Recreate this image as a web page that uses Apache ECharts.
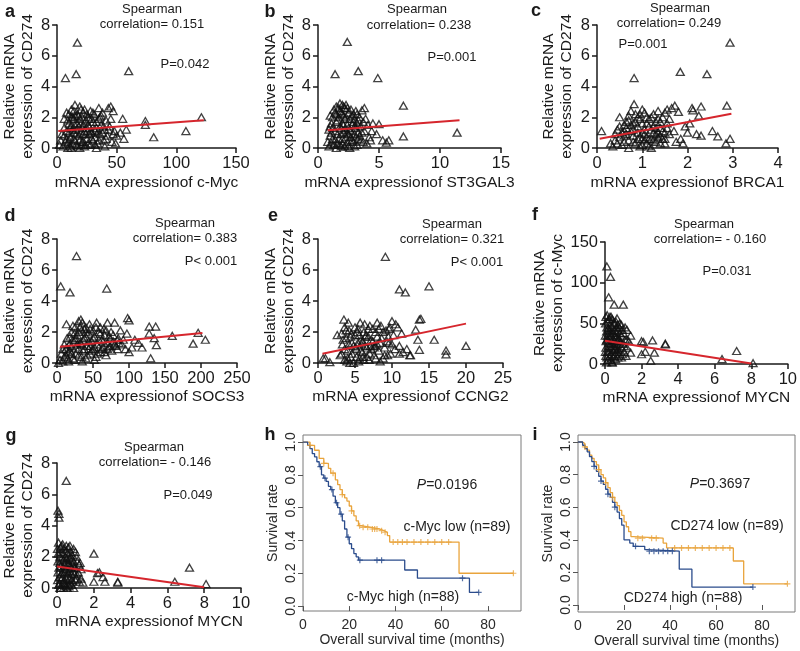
<!DOCTYPE html>
<html>
<head>
<meta charset="utf-8">
<script src="https://cdn.jsdelivr.net/npm/echarts@6/dist/echarts.min.js"></script>
<style>
  html, body { margin: 0; background: #fff; }
  #chart { width: 800px; height: 651px; }
</style>
</head>
<body>
<div id="chart"></div>
<script>
// ---- scatter data ----
const aPoints = [[17,6.85],[7,4.55],[16,4.8],[60,5.0],[121,2.0],[108,1.1],[81,0.7],[74,1.75],[74,1.5],[55,1.9],[58,1.2],[53,1.0],[50,0.8],[56,0.6],[45,2.7],[43,2.6],[47,2.4],[35,2.6],[28,2.4],[15,2.8],[19,2.7],[12,2.5],[10,2.2],[9,1.8],[6,1.3],[4,0.9],[3,0.5],[2,0.2],[5,0.1],[8,0.6],[10,1.0],[12,1.5],[13,0.3],[14,1.9],[16,1.2],[18,0.8],[18,2.1],[20,1.6],[21,0.4],[22,2.3],[23,1.1],[24,1.8],[25,0.6],[26,2.0],[27,1.4],[28,0.2],[29,1.0],[30,1.7],[31,2.2],[32,0.7],[33,1.3],[34,0.3],[35,1.9],[36,0.9],[37,1.5],[38,2.3],[39,0.5],[40,1.2],[41,1.8],[42,0.8],[44,1.4],[46,0.4],[48,1.1],[49,0.3],[11,0.1],[15,0.5],[19,0.0],[14,1.0],[17,1.6],[20,2.5],[22,0.9],[24,0.2],[26,1.5],[30,0.5],[32,1.1],[7,0.4],[9,0.0],[13,2.0],[16,0.2],[21,1.3],[23,0.1],[25,2.2],[27,0.9],[29,1.9],[33,0.0],[36,2.0],[38,1.0],[40,0.1],[11,1.3],[6,0.8],
  [6,1.9],[8,1.1],[8,2.3],[9,0.3],[10,1.6],[11,0.7],[12,2.0],[12,0.0],[13,1.2],[14,0.6],[14,2.4],[15,1.5],[16,0.9],[17,2.2],[17,0.1],[18,1.4],[19,0.5],[19,1.9],[20,1.0],[20,0.2],[21,2.0],[22,1.5],[22,0.4],[23,2.5],[24,0.9],[25,1.3],[26,0.3],[27,1.9],[28,1.1],[29,0.6],[30,2.3],[31,1.2],[32,0.2],[33,1.7],[34,1.0],[35,0.5],[37,2.1],[39,1.4],[41,0.6],[43,1.2],[45,1.9],[47,0.9],[10,0.5],[15,2.1]]
const aFit = [[1,1.1],[123,1.8]]

const bPoints = [[2.4,6.9],[1.4,4.8],[3.3,5.0],[4.9,4.55],[7.0,2.75],[7.0,0.75],[11.4,1.0],[5.0,1.55],[4.5,1.6],[3.8,2.6],[3.6,2.45],[5.3,0.5],[5.6,0.35],[5.8,0.5],[4.2,0.7],[4.8,0.9],[4.4,1.1],[1.2,2.0],[1.5,2.7],[1.8,2.9],[2.0,2.8],[2.2,2.6],[2.5,2.3],[2.8,2.1],[3.0,1.9],[3.2,2.2],[0.8,0.4],[0.9,1.2],[1.0,0.8],[1.1,1.6],[1.3,0.2],[1.4,1.1],[1.5,0.0],[1.6,1.8],[1.7,0.6],[1.8,1.4],[1.9,2.3],[2.0,0.3],[2.1,1.0],[2.2,1.9],[2.3,0.7],[2.4,1.5],[2.5,0.1],[2.6,1.2],[2.7,2.5],[2.8,0.5],[2.9,1.7],[3.0,0.9],[3.1,1.3],[3.2,0.2],[3.3,1.8],[3.4,0.8],[3.5,1.4],[3.7,0.4],[3.8,1.1],[3.9,1.9],[4.0,0.3],[4.1,1.5],[1.2,0.6],[1.6,0.3],[2.0,1.6],[2.3,2.8],[2.6,0.0],[2.9,0.4],[3.3,0.6],[1.0,1.4],[1.4,2.3],[1.9,0.9],[2.1,2.1],[2.5,0.9],[3.6,1.0],[4.3,0.5],[0.9,0.1],[1.7,2.6],[2.7,1.1],[3.1,2.4],
  [1.0,2.1],[1.1,0.3],[1.2,1.3],[1.3,2.5],[1.4,0.5],[1.5,1.7],[1.6,0.9],[1.7,2.0],[1.8,0.2],[1.8,2.4],[1.9,1.3],[2.0,0.6],[2.0,2.2],[2.1,1.5],[2.2,0.1],[2.2,1.2],[2.3,2.0],[2.4,0.4],[2.4,2.6],[2.5,1.3],[2.6,1.9],[2.7,0.7],[2.8,1.5],[2.9,2.2],[3.0,0.1],[3.0,1.4],[3.1,0.7],[3.2,1.6],[3.4,2.0],[3.5,0.5],[3.7,1.7],[1.1,1.0],[1.5,2.2],[1.9,0.1],[2.1,2.7],[2.6,0.5],[3.3,1.0],[2.4,1.0]]
const bFit = [[0.8,1.15],[11.6,1.8]]

const cPoints = [[2.94,6.85],[0.82,4.55],[1.84,4.95],[2.43,4.8],[0.1,1.1],[0.5,2.0],[0.82,2.85],[2.87,2.75],[2.94,0.6],[2.85,0.3],[2.67,0.75],[2.55,1.1],[2.3,2.7],[2.25,2.1],[2.1,2.6],[2.12,2.45],[1.9,0.3],[1.8,2.35],[1.72,2.75],[1.65,2.6],[1.55,2.5],[1.85,0.6],[1.95,1.4],[2.0,1.0],[2.05,1.6],[2.2,0.9],[2.3,0.8],[1.7,1.1],[1.75,0.4],[1.6,1.9],[1.5,0.3],[0.3,0.3],[0.35,0.1],[0.4,0.5],[0.45,1.2],[0.5,0.7],[0.55,0.2],[0.6,1.5],[0.65,0.9],[0.7,0.0],[0.7,1.8],[0.75,1.1],[0.8,0.4],[0.85,2.2],[0.9,1.4],[0.9,0.6],[0.95,1.9],[1.0,0.2],[1.0,1.0],[1.05,2.3],[1.1,0.7],[1.1,1.6],[1.15,0.1],[1.2,1.2],[1.2,2.0],[1.25,0.5],[1.3,1.7],[1.3,0.9],[1.35,2.4],[1.4,0.3],[1.4,1.3],[1.45,2.0],[1.5,1.0],[1.55,1.6],[0.6,0.4],[0.8,0.8],[0.95,0.1],[1.05,0.5],[1.15,1.9],[1.25,1.4],[0.65,1.3],[0.75,2.4],[1.35,0.7],[0.85,1.7],[0.55,1.0],[1.45,0.6],[1.0,2.5],[1.2,0.0],
  [0.4,0.9],[0.45,0.3],[0.5,1.4],[0.6,0.8],[0.65,1.7],[0.7,0.5],[0.75,1.5],[0.8,1.2],[0.85,0.3],[0.9,1.0],[0.9,2.0],[0.95,0.7],[1.0,1.6],[1.0,0.6],[1.05,1.2],[1.1,0.3],[1.1,2.0],[1.15,1.4],[1.2,0.6],[1.25,1.0],[1.25,2.2],[1.3,0.4],[1.3,1.3],[1.35,1.9],[1.4,0.8],[1.4,1.7],[1.45,1.1],[1.5,2.3],[1.5,0.6],[1.55,1.3],[0.7,2.1],[0.8,1.6],[0.95,2.2],[1.05,0.9],[1.15,0.6],[1.35,1.0],[0.6,1.1],[1.6,0.9]]
const cFit = [[0.06,0.6],[2.97,2.23]]

const dPoints = [[27,6.9],[5,4.95],[18,4.55],[69,4.8],[13,2.5],[98,2.9],[100,2.75],[128,2.35],[137,2.35],[160,1.75],[196,1.95],[206,1.5],[189,1.25],[138,1.15],[130,0.3],[128,1.9],[135,1.6],[100,0.7],[104,1.0],[108,1.5],[113,1.3],[118,1.0],[97,1.9],[80,2.6],[75,2.0],[85,1.6],[90,1.2],[95,0.9],[88,2.1],[70,2.6],[65,2.2],[60,2.3],[55,2.6],[50,2.1],[45,2.5],[40,2.3],[33,2.8],[30,2.7],[35,2.6],[25,2.3],[20,2.0],[2,0.0],[4,0.2],[6,0.6],[8,0.1],[10,0.4],[12,0.9],[15,0.3],[17,1.2],[20,0.6],[22,1.5],[24,0.2],[26,1.0],[28,1.8],[30,0.5],[32,1.3],[34,2.1],[36,0.8],[38,1.6],[40,0.3],[42,1.1],[44,1.9],[46,0.6],[48,1.4],[50,0.9],[52,1.7],[54,0.4],[56,1.2],[58,2.0],[60,0.7],[62,1.5],[64,1.0],[66,1.8],[68,0.5],[70,1.3],[72,1.0],[74,1.6],[76,0.8],[78,1.4],[82,1.1],[84,0.9],[86,1.3],[92,1.5],[35,0.1],[18,0.8],[14,1.6],[44,0.9],[52,0.2],[30,2.0],[25,1.5],[58,1.0],[40,1.7],
  [10,1.2],[12,0.5],[14,1.0],[16,0.1],[18,1.7],[20,1.1],[22,0.3],[24,1.9],[26,0.6],[28,1.2],[30,0.9],[32,2.3],[34,0.4],[36,1.5],[38,0.9],[40,2.0],[42,0.5],[44,1.4],[46,2.2],[48,0.8],[50,1.6],[52,1.0],[54,2.3],[56,0.6],[58,1.5],[60,1.9],[62,0.9],[64,1.4],[66,0.7],[68,2.1],[70,0.9],[72,1.7],[74,1.1],[78,1.8],[80,1.2],[84,1.5],[16,0.7],[26,1.6],[34,1.2],[46,1.1],[8,0.9],[22,2.4],[38,2.2]]
const dFit = [[4,1.05],[202,1.93]]

const ePoints = [[9.1,6.85],[11,4.75],[11.8,4.55],[15,4.95],[20,1.1],[17.3,0.8],[17.3,0.55],[15.7,1.5],[13.7,2.8],[13.9,2.85],[13.2,2.15],[13.5,1.5],[13.7,0.85],[12,0.9],[12.4,0.5],[11,1.1],[10.5,2.5],[10,2.7],[9.7,2.3],[9.4,0.5],[8,2.6],[8.5,2.4],[3.5,2.8],[3.2,1.9],[2.6,1.8],[0.7,0.3],[1,0.3],[1.6,0.05],[11.5,0.7],[12.5,0.5],[10.8,2.3],[11.3,1.9],[11,0.6],[3.0,0.5],[3.3,1.2],[3.6,0.2],[3.8,1.6],[4.0,0.8],[4.2,2.1],[4.4,0.4],[4.6,1.3],[4.8,0.0],[5.0,1.8],[5.2,0.9],[5.4,2.2],[5.6,0.3],[5.8,1.5],[6.0,0.7],[6.2,2.0],[6.4,1.1],[6.6,0.4],[6.8,1.7],[7.0,2.4],[7.2,0.9],[7.4,1.4],[7.6,0.5],[7.8,2.0],[8.0,1.2],[8.2,0.8],[8.6,1.6],[8.8,0.3],[9.0,1.0],[9.2,2.1],[9.6,1.3],[9.8,0.6],[10.2,1.8],[10.4,0.9],[4.1,2.6],[5.5,0.1],[6.3,2.5],[3.9,0.1],[5.1,1.0],[6.9,0.2],[7.7,1.1],[8.4,0.1],[9.5,1.7],[4.5,1.9],[5.9,1.2],[6.5,1.8],
  [3.2,0.6],[3.4,1.5],[3.6,0.9],[3.8,2.1],[4.0,0.3],[4.2,1.2],[4.4,1.7],[4.6,0.6],[4.8,1.1],[5.0,2.3],[5.2,0.4],[5.4,1.3],[5.6,1.8],[5.8,0.8],[6.0,1.4],[6.2,0.2],[6.4,1.7],[6.6,1.0],[6.8,2.2],[7.0,0.6],[7.2,1.5],[7.4,2.2],[7.6,1.0],[7.8,0.3],[8.0,1.7],[8.2,2.2],[8.4,1.3],[8.8,2.0],[9.0,0.5],[9.3,1.4],[9.6,2.2],[10.0,1.2],[4.3,0.0],[5.3,2.0],[6.1,0.4],[7.1,1.1],[3.6,2.3],[5.7,2.6]]
const eFit = [[0.6,0.6],[20,2.54]]

const fPoints = [[0.1,120],[0.3,107],[0.2,82],[0.5,73],[1.0,73],[0.8,50],[0.9,48],[1.4,35],[2.0,28],[2.1,27],[2.6,29],[3.3,25],[3.3,24],[7.2,16],[6.4,6],[8.1,1],[2.5,4],[2.0,12],[2.2,15],[2.7,14],[1.4,14],[1.2,20],[1.1,30],[1.0,38],[0.05,58],[0.1,45],[0.15,30],[0.2,15],[0.25,55],[0.3,5],[0.35,40],[0.4,25],[0.45,50],[0.5,10],[0.55,35],[0.6,20],[0.65,45],[0.7,8],[0.75,30],[0.8,15],[0.85,25],[0.9,35],[0.95,12],[0.05,20],[0.1,8],[0.15,52],[0.2,38],[0.25,22],[0.3,48],[0.35,12],[0.4,55],[0.45,30],[0.5,42],[0.55,18],[0.6,52],[0.65,28],[0.7,40],[0.02,35],[0.08,2],[0.12,60],[0.28,32],[0.38,2],[0.48,22],[0.58,6],[0.68,15],[0.78,45],[1.05,22],[1.15,10],[1.3,28],[0.05,10],[0.22,26],[0.42,17],[0.62,33],[0.88,20],[1.2,42],[0.18,44],[0.33,58],
  [0.03,50],[0.06,28],[0.09,40],[0.12,15],[0.14,35],[0.17,5],[0.2,55],[0.23,42],[0.26,10],[0.29,25],[0.32,36],[0.36,20],[0.39,46],[0.43,8],[0.46,38],[0.5,28],[0.53,50],[0.57,12],[0.6,40],[0.63,24],[0.66,56],[0.7,18],[0.73,32],[0.76,10],[0.8,38],[0.84,28],[0.9,8],[0.95,42],[1.0,25],[1.05,15],[1.1,45],[1.2,30],[0.02,15],[0.1,30],[0.27,58],[0.4,2],[0.52,18],[0.7,48]]
const fFit = [[0,28.5],[8,0.5]]

const gPoints = [[0.5,6.85],[0.05,4.95],[0.1,4.75],[0.1,4.5],[2.0,2.2],[7.2,1.3],[6.4,0.4],[8.1,0.25],[3.3,0.4],[3.3,0.35],[2.6,0.4],[2.5,0.7],[2.2,0.95],[2.3,1.0],[2.0,0.4],[1.4,0.35],[0.9,0.0],[1.0,2.3],[0.7,2.7],[0.02,2.5],[0.05,1.0],[0.1,0.2],[0.15,2.0],[0.2,1.4],[0.25,0.6],[0.3,2.8],[0.35,1.8],[0.4,0.3],[0.45,1.2],[0.5,2.4],[0.55,0.8],[0.6,1.6],[0.65,0.1],[0.7,1.1],[0.75,2.0],[0.8,0.5],[0.85,1.5],[0.9,2.5],[0.95,0.9],[1.0,1.3],[1.05,0.6],[1.1,1.7],[1.2,0.4],[1.3,1.2],[0.05,1.7],[0.12,0.7],[0.18,2.6],[0.22,0.0],[0.28,1.0],[0.32,2.2],[0.38,0.5],[0.42,1.5],[0.48,0.1],[0.52,1.9],[0.58,1.0],[0.62,2.6],[0.68,0.6],[0.72,1.4],[0.78,0.2],[0.82,1.8],[0.88,1.0],[1.15,1.0],[1.25,1.6],[0.08,2.9],[0.3,0.3],[0.45,2.0],
  [0.03,0.5],[0.06,2.2],[0.1,1.3],[0.13,0.3],[0.16,1.6],[0.2,2.3],[0.23,0.9],[0.26,1.9],[0.3,0.7],[0.33,1.3],[0.36,2.5],[0.4,1.0],[0.43,0.2],[0.46,1.7],[0.5,0.6],[0.53,1.2],[0.56,2.2],[0.6,0.3],[0.63,1.5],[0.66,1.9],[0.7,0.3],[0.73,2.3],[0.76,0.9],[0.8,1.3],[0.83,2.1],[0.86,0.4],[0.9,1.7],[0.95,1.3],[1.0,0.5],[1.05,2.0],[1.1,0.8],[1.2,1.5],[1.3,0.6],[0.15,0.0],[0.35,0.0],[0.55,0.0],[0.25,2.7],[0.5,2.7]]
const gFit = [[0,1.38],[8,0.05]]

// ---- survival curves (Kaplan-Meier steps) ----
const hLow = [[0,1],[3,0.98],[5,0.95],[7,0.90],[9,0.87],[11,0.84],[12,0.81],[14,0.77],[15,0.74],[16,0.71],[17,0.68],[18,0.66],[19,0.64],[20,0.61],[21,0.58],[22,0.55],[23,0.52],[24,0.49],[25,0.48],[29.5,0.47],[33,0.46],[35,0.45],[36.5,0.43],[37.5,0.39],[67.5,0.20],[91,0.20]]
const hHigh = [[0,1],[2,0.98],[3,0.96],[4,0.93],[5,0.91],[6,0.88],[7,0.85],[8,0.80],[9,0.78],[10,0.76],[11,0.73],[12,0.71],[13,0.67],[14,0.63],[15,0.60],[16,0.56],[17,0.52],[18,0.47],[19,0.42],[20,0.38],[21,0.35],[22,0.32],[23,0.30],[24,0.28],[44,0.22],[49.5,0.17],[72,0.083],[76,0.083]]
const hLowCensor = [[3,0.98],[9,0.87],[13,0.81],[17,0.68],[21,0.58],[24.5,0.49],[26,0.48],[28,0.48],[30,0.47],[31,0.47],[32,0.47],[34,0.46],[35.5,0.45],[39,0.39],[41,0.39],[43,0.39],[45,0.39],[48,0.39],[51,0.39],[54,0.39],[57,0.39],[60,0.39],[63,0.39],[91,0.20]]
const hHighCensor = [[7.5,0.85],[9.5,0.78],[12.5,0.71],[14.5,0.63],[16.5,0.56],[19.5,0.42],[24.6,0.28],[32,0.28],[34,0.28],[69,0.17],[76,0.083]]

const iLow = [[0,1],[2,0.99],[3,0.97],[4,0.95],[5,0.92],[6,0.90],[7,0.88],[8,0.86],[9,0.83],[10,0.80],[11,0.78],[12,0.75],[13,0.72],[14,0.69],[15,0.66],[16,0.63],[17,0.61],[18,0.58],[19,0.55],[20,0.51],[21,0.48],[22,0.45],[23,0.42],[24,0.41],[37,0.38],[38.5,0.35],[67.5,0.27],[72,0.13],[91,0.13]]
const iHigh = [[0,1],[2,0.98],[3,0.96],[4,0.94],[5,0.91],[6,0.88],[7,0.85],[8,0.82],[9,0.79],[10,0.76],[11,0.74],[12,0.71],[13,0.68],[14,0.66],[15,0.63],[16,0.60],[17,0.57],[18,0.53],[19,0.49],[20,0.40],[22.5,0.38],[24,0.36],[29,0.34],[30,0.33],[44,0.22],[49.5,0.11],[76,0.11]]
const iLowCensor = [[3,0.97],[9,0.83],[12,0.75],[15,0.66],[26,0.41],[28,0.41],[32,0.41],[34,0.41],[42,0.35],[45,0.35],[48,0.35],[51,0.35],[54,0.35],[57,0.35],[60,0.35],[63,0.35],[66,0.35],[91,0.13]]
const iHighCensor = [[7,0.85],[10,0.76],[13,0.68],[16,0.60],[25,0.36],[31,0.33],[33,0.33],[35,0.33],[37,0.33],[39,0.33],[41,0.33],[76,0.11]]

const kmTicksX = [0, 20, 40, 60, 80]
const kmTicksY = [0, 0.2, 0.4, 0.6, 0.8, 1.0]

const FONT = '"Liberation Sans", Arial, sans-serif'
const INK = '#1a1a1a'
const RED = '#d6262d'
const ORANGE = '#e9a43c'
const BLUE = '#2b4c8c'

const grids = [], xAxes = [], yAxes = [], series = []

// scatter panel with a fitted line, GraphPad style axes
function addScatter(box, xMax, xStep, xName, xGap, yMax, yStep, yName, yGap, pts, fit) {
  const gi = grids.length
  grids.push({ left: box[0], top: box[1], width: box[2], height: box[3] })
  const common = {
    gridIndex: gi, type: 'value', min: 0, splitLine: { show: false },
    nameLocation: 'middle',
    nameTextStyle: { fontFamily: FONT, fontSize: 15.5, color: INK, lineHeight: 18 },
    axisLine: { onZero: false, lineStyle: { color: INK, width: 1.5 } },
    axisTick: { length: 5, lineStyle: { color: INK, width: 1.5 } },
    axisLabel: { fontFamily: FONT, fontSize: 16.5, color: INK, margin: 7 }
  }
  xAxes.push(Object.assign({}, common, { max: xMax, interval: xStep, name: xName, nameGap: xGap }))
  yAxes.push(Object.assign({}, common, { max: yMax, interval: yStep, name: yName, nameGap: yGap, nameRotate: 90 }))
  series.push({
    type: 'scatter', xAxisIndex: gi, yAxisIndex: gi, data: pts,
    symbol: 'triangle', symbolSize: [8, 7],
    itemStyle: { color: 'rgba(0,0,0,0)', borderColor: '#111', borderWidth: 1.3 },
    silent: true, z: 2
  })
  series.push({
    type: 'line', xAxisIndex: gi, yAxisIndex: gi, data: fit, symbol: 'none',
    lineStyle: { color: RED, width: 2 }, silent: true, z: 5
  })
}

// Kaplan-Meier panel drawn inside an R style box
function addSurvival(box, yMin, yMax, xMax, low, high, lowCens, highCens) {
  const gi = grids.length
  grids.push({ left: box[0], top: box[1], width: box[2], height: box[3], show: true,
    borderColor: '#7a7a7a', borderWidth: 1, backgroundColor: 'transparent' })
  const lab = { fontFamily: FONT, fontSize: 14, color: '#2a2a2a' }
  xAxes.push({
    gridIndex: gi, type: 'value', min: 0, max: xMax, splitLine: { show: false },
    axisLine: { show: false },
    axisTick: { customValues: kmTicksX, length: 5, lineStyle: { color: '#555' } },
    axisLabel: Object.assign({ customValues: kmTicksX, margin: 7 }, lab),
    name: 'Overall survival time (months)', nameLocation: 'middle', nameGap: 21,
    nameTextStyle: lab
  })
  yAxes.push({
    gridIndex: gi, type: 'value', min: yMin, max: yMax, splitLine: { show: false },
    axisLine: { show: false },
    axisTick: { customValues: kmTicksY, length: 5, lineStyle: { color: '#555' } },
    axisLabel: Object.assign({ customValues: kmTicksY, rotate: 90, margin: 5,
      formatter: v => v.toFixed(1) }, lab),
    name: 'Survival rate', nameLocation: 'middle', nameGap: 23, nameTextStyle: lab
  })
  const plus = 'path://M4,0H6V4H10V6H6V10H4V6H0V4H4Z'
  ;[[low, lowCens, ORANGE], [high, highCens, BLUE]].forEach(([curve, cens, col]) => {
    series.push({ type: 'line', step: 'end', xAxisIndex: gi, yAxisIndex: gi, data: curve,
      symbol: 'none', lineStyle: { color: col, width: 1.3 }, silent: true, z: 3 })
    series.push({ type: 'scatter', xAxisIndex: gi, yAxisIndex: gi, data: cens,
      symbol: plus, symbolSize: 6, itemStyle: { color: col }, silent: true, z: 4 })
  })
}

addScatter([53, 25, 183, 123], 150, 50, 'mRNA expressionof c-Myc', 26, 8, 2, 'Relative mRNA\nexpression of CD274', 17, aPoints, aFit)
addScatter([318, 25, 183, 123], 15, 5, 'mRNA expressionof ST3GAL3', 26, 8, 2, 'Relative mRNA\nexpression of CD274', 15, bPoints, bFit)
addScatter([597, 25, 181, 123], 4, 1, 'mRNA expressionof BRCA1', 26, 8, 2, 'Relative mRNA\nexpression of CD274', 21, cPoints, cFit)
addScatter([52, 239, 185, 124], 250, 50, 'mRNA expressionof SOCS3', 20, 8, 2, 'Relative mRNA\nexpression of CD274', 16, dPoints, dFit)
addScatter([318, 239, 185, 124], 25, 5, 'mRNA expressionof CCNG2', 20, 8, 2, 'Relative mRNA\nexpression of CD274', 15, ePoints, eFit)
addScatter([605, 242, 188, 122], 10, 2, 'mRNA expressionof MYCN', 19, 150, 50, 'Relative mRNA\nexpression of c-Myc', 32, fPoints, fFit)
addScatter([53, 463, 188, 125], 10, 2, 'mRNA expressionof MYCN', 21, 8, 2, 'Relative mRNA\nexpression of CD274', 16, gPoints, gFit)
addSurvival([303, 435, 218, 176], -0.03, 1.043, 94.3, hLow, hHigh, hLowCensor, hHighCensor)
addSurvival([578, 435, 217, 177], -0.043, 1.043, 94.3, iLow, iHigh, iLowCensor, iHighCensor)

// annotation texts
function txt(x, y, text, size, extra) {
  return { type: 'text', x: x, y: y, silent: true, z: 10,
    style: Object.assign({ text: text, fontFamily: FONT, fontSize: size, fill: INK,
      align: 'center', verticalAlign: 'middle' }, extra || {}) }
}
const italicP = { rich: { i: { fontStyle: 'italic', fontFamily: FONT, fontSize: 14, fill: '#222' } }, fill: '#222' }
const graphics = [
  txt(10, 12, 'a', 18, { fontWeight: 'bold' }), txt(270, 12, 'b', 18, { fontWeight: 'bold' }),
  txt(536, 11, 'c', 18, { fontWeight: 'bold' }), txt(10, 216, 'd', 18, { fontWeight: 'bold' }),
  txt(273, 216, 'e', 18, { fontWeight: 'bold' }), txt(535, 215, 'f', 18, { fontWeight: 'bold' }),
  txt(11, 436, 'g', 18, { fontWeight: 'bold' }), txt(270, 435, 'h', 18, { fontWeight: 'bold' }),
  txt(535, 435, 'i', 18, { fontWeight: 'bold' }),
  txt(152, 9, 'Spearman', 13), txt(152, 24, 'correlation= 0.151', 13), txt(185, 64, 'P=0.042', 13),
  txt(417, 9, 'Spearman', 13), txt(419, 25, 'correlation= 0.238', 13), txt(452, 57, 'P=0.001', 13),
  txt(680, 8, 'Spearman', 13), txt(669, 23, 'correlation= 0.249', 13), txt(643, 44, 'P=0.001', 13),
  txt(185, 223, 'Spearman', 13), txt(185, 238, 'correlation= 0.383', 13), txt(211, 261, 'P< 0.001', 13),
  txt(452, 224, 'Spearman', 13), txt(452, 239, 'correlation= 0.321', 13), txt(477, 262, 'P< 0.001', 13),
  txt(704, 224, 'Spearman', 13), txt(710, 239, 'correlation= - 0.160', 13), txt(727, 271, 'P=0.031', 13),
  txt(154, 447, 'Spearman', 13), txt(155, 462, 'correlation= - 0.146', 13), txt(188, 495, 'P=0.049', 13),
  txt(447, 485, '{i|P}=0.0196', 14, italicP), txt(457, 527, 'c-Myc low (n=89)', 14, { fill: '#222' }),
  txt(403, 597, 'c-Myc high (n=88)', 14, { fill: '#222' }),
  txt(720, 484, '{i|P}=0.3697', 14, italicP), txt(727, 526, 'CD274 low (n=89)', 14, { fill: '#222' }),
  txt(683, 598, 'CD274 high (n=88)', 14, { fill: '#222' })
]

const chart = echarts.init(document.getElementById('chart'), null, { renderer: 'canvas' })
chart.setOption({
  animation: false,
  backgroundColor: '#fff',
  grid: grids,
  xAxis: xAxes,
  yAxis: yAxes,
  series: series,
  graphic: graphics
})
window.addEventListener('resize', () => chart.resize())
</script>
</body>
</html>
